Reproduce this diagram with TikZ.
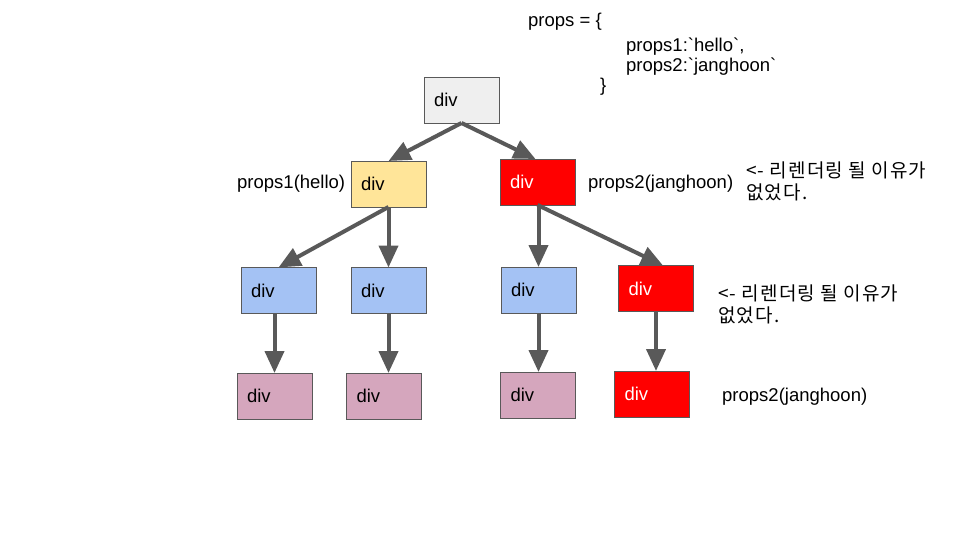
\documentclass[tikz,border=0pt]{standalone}
\usepackage{fontspec}
\setmainfont{Liberation Sans}[Ligatures=TeXOff]
\newfontfamily\cjk{Noto Sans CJK KR}[LetterSpace=6]
\usetikzlibrary{arrows.meta,calc}
\definecolor{edgegray}{HTML}{595959}
\definecolor{rootfill}{HTML}{EFEFEF}
\definecolor{yellowfill}{HTML}{FFE599}
\definecolor{bluefill}{HTML}{A4C2F4}
\definecolor{purplefill}{HTML}{D5A6BD}
\definecolor{redfill}{HTML}{FF0000}
\tikzset{
  box/.style={draw=edgegray, line width=0.8pt, rectangle, minimum width=75pt, minimum height=46pt,
    inner xsep=10pt, inner ysep=0pt, text width=55pt, align=left, outer sep=0pt,
    font=\fontsize{18.5}{22}\selectfont},
  rootbox/.style={box, fill=rootfill},
  yellowbox/.style={box, fill=yellowfill},
  bluebox/.style={box, fill=bluefill},
  purplebox/.style={box, fill=purplefill},
  redbox/.style={box, fill=redfill, text=white},
  conn/.style={draw=edgegray, line width=4pt, -{Triangle[length=22pt,width=19pt]}},
  lbl/.style={anchor=base west, inner sep=0pt, font=\fontsize{18.5}{22}\selectfont},
  klbl/.style={anchor=base west, inner sep=0pt, font=\cjk\fontsize{19}{22}\selectfont},
}
\begin{document}
\begin{tikzpicture}[x=1pt,y=-1pt]
\useasboundingbox (0,0) rectangle (960,540);
% boxes
\node[rootbox]   (root)  at (461.5,100) {div};
\node[yellowbox] (yel)   at (388.5,184) {div};
\node[redbox]    (red1)  at (537.5,182) {div};
\node[bluebox]   (blue1) at (278.5,290.5) {div};
\node[bluebox]   (blue2) at (388.5,290.5) {div};
\node[bluebox]   (blue3) at (538.5,290) {div};
\node[redbox]    (red2)  at (656,288.5) {div};
\node[purplebox] (pur1)  at (274.5,396) {div};
\node[purplebox] (pur2)  at (384,396) {div};
\node[purplebox] (pur3)  at (538,395) {div};
\node[redbox]    (red3)  at (652,394) {div};
% connectors
\draw[conn] (root.south) -- (yel.north);
\draw[conn] (root.south) -- ($(red1.north)+(-2,0)$);
\draw[conn] (yel.south) -- (blue1.north);
\draw[conn] (yel.south) -- (blue2.north);
\draw[conn] (blue3.north |- red1.south) -- (blue3.north);
\draw[conn] (red1.south) -- ($(red2.north)+(7,0)$);
\draw[conn] (pur1.north |- blue1.south) -- (pur1.north);
\draw[conn] (blue2.south) -- (blue2.south |- pur2.north);
\draw[conn] (blue3.south) -- (blue3.south |- pur3.north);
\draw[conn] (red2.south) -- (red2.south |- red3.north);
% labels
\node[lbl] (pr0) at (528,27) {props = \{};
\node[lbl] (pr1) at (626,52) {props1:`hello`,};
\node[lbl] (pr2) at (626,72) {props2:`janghoon`};
\node[lbl] (pr3) at (600,92) {\}};
\node[lbl] (lh)  at (237,189) {props1(hello)};
\node[lbl] (lj1) at (588,189) {props2(janghoon)};
\node[lbl] (lj2) at (722,401) {props2(janghoon)};
\node[klbl] (k1a) at (746,177.5) {<- 리렌더링 될 이유가};
\node[klbl] (k1b) at (746,199.5) {없었다.};
\node[klbl] (k2a) at (718,300.5) {<- 리렌더링 될 이유가};
\node[klbl] (k2b) at (718,322.5) {없었다.};
\end{tikzpicture}
\end{document}
